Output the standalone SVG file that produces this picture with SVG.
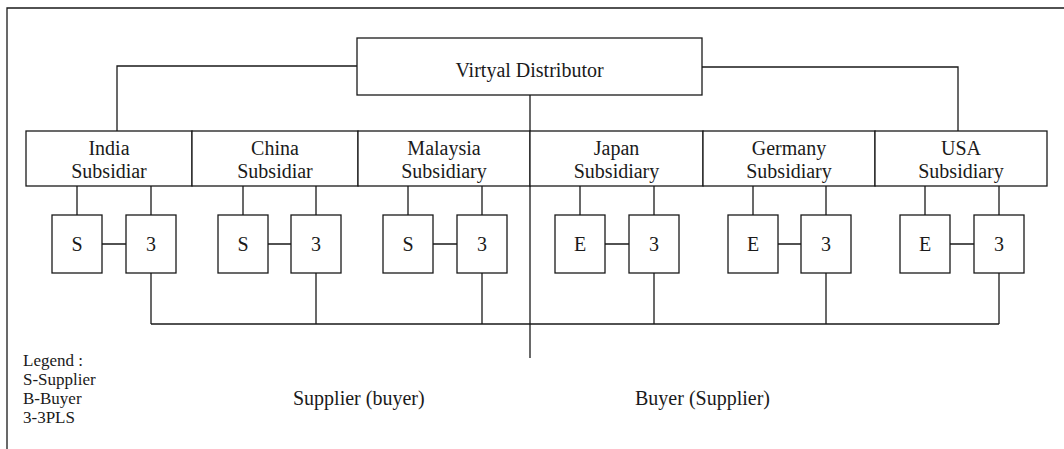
<svg xmlns="http://www.w3.org/2000/svg" width="1064" height="449" viewBox="0 0 1064 449">
<style>
.box{fill:#fff;stroke:#1a1a1a;stroke-width:1.3}
.ln{fill:none;stroke:#1a1a1a;stroke-width:1.3}
text{font-family:"Liberation Serif","Times New Roman",serif;font-size:20px;fill:#1a1a1a}
.c{text-anchor:middle}
.lg{font-size:17px}
</style>
<rect width="1064" height="449" fill="#fff"/>
<g id="frame"><path class="ln" d="M7,449 V8 H1064"/></g>
<g id="connectors">
<path class="ln" d="M357,66 H117 V131"/>
<path class="ln" d="M702,67 H958 V131"/>
<path class="ln" d="M530,95 V358"/>
<path class="ln" d="M77,186 V215 M151,186 V215 M243,186 V215 M316,186 V215 M408,186 V215 M482,186 V215 M580,186 V215 M654,186 V215 M753,186 V215 M826,186 V215 M925,186 V215 M999,186 V215"/>
<path class="ln" d="M102,244 H126 M268,244 H291 M433,244 H457 M605,244 H629 M778,244 H801 M950,244 H974"/>
<path class="ln" d="M151,273 V324 M316,273 V324 M482,273 V324 M654,273 V324 M826,273 V324 M999,273 V324 M151,324 H999"/>
</g>
<g id="vd"><rect class="box" x="357" y="38" width="345" height="57"/><text class="c" x="529.5" y="77">Virtyal Distributor</text></g>
<g id="india"><rect class="box" x="26" y="131" width="166" height="55"/><text class="c" x="109" y="155">India</text><text class="c" x="109" y="178">Subsidiar</text></g>
<g id="china"><rect class="box" x="192" y="131" width="166" height="55"/><text class="c" x="275" y="155">China</text><text class="c" x="275" y="178">Subsidiar</text></g>
<g id="malaysia"><rect class="box" x="358" y="131" width="172" height="55"/><text class="c" x="444" y="155">Malaysia</text><text class="c" x="444" y="178">Subsidiary</text></g>
<g id="japan"><rect class="box" x="530" y="131" width="173" height="55"/><text class="c" x="616.5" y="155">Japan</text><text class="c" x="616.5" y="178">Subsidiary</text></g>
<g id="germany"><rect class="box" x="703" y="131" width="172" height="55"/><text class="c" x="789" y="155">Germany</text><text class="c" x="789" y="178">Subsidiary</text></g>
<g id="usa"><rect class="box" x="875" y="131" width="172" height="55"/><text class="c" x="961" y="155">USA</text><text class="c" x="961" y="178">Subsidiary</text></g>
<g id="india-s"><rect class="box" x="52" y="215" width="50" height="58"/><text class="c" x="77" y="251">S</text></g>
<g id="india-3"><rect class="box" x="126" y="215" width="50" height="58"/><text class="c" x="151" y="251">3</text></g>
<g id="china-s"><rect class="box" x="218" y="215" width="50" height="58"/><text class="c" x="243" y="251">S</text></g>
<g id="china-3"><rect class="box" x="291" y="215" width="50" height="58"/><text class="c" x="316" y="251">3</text></g>
<g id="malaysia-s"><rect class="box" x="383" y="215" width="50" height="58"/><text class="c" x="408" y="251">S</text></g>
<g id="malaysia-3"><rect class="box" x="457" y="215" width="50" height="58"/><text class="c" x="482" y="251">3</text></g>
<g id="japan-e"><rect class="box" x="555" y="215" width="50" height="58"/><text class="c" x="580" y="251">E</text></g>
<g id="japan-3"><rect class="box" x="629" y="215" width="50" height="58"/><text class="c" x="654" y="251">3</text></g>
<g id="germany-e"><rect class="box" x="728" y="215" width="50" height="58"/><text class="c" x="753" y="251">E</text></g>
<g id="germany-3"><rect class="box" x="801" y="215" width="50" height="58"/><text class="c" x="826" y="251">3</text></g>
<g id="usa-e"><rect class="box" x="900" y="215" width="50" height="58"/><text class="c" x="925" y="251">E</text></g>
<g id="usa-3"><rect class="box" x="974" y="215" width="50" height="58"/><text class="c" x="999" y="251">3</text></g>
<g id="legend">
<text class="lg" x="23" y="366">Legend :</text>
<text class="lg" x="23" y="385">S-Supplier</text>
<text class="lg" x="23" y="404">B-Buyer</text>
<text class="lg" x="23" y="423">3-3PLS</text>
</g>
<g id="labels">
<text x="293" y="405">Supplier (buyer)</text>
<text x="635" y="405">Buyer (Supplier)</text>
</g>
</svg>
